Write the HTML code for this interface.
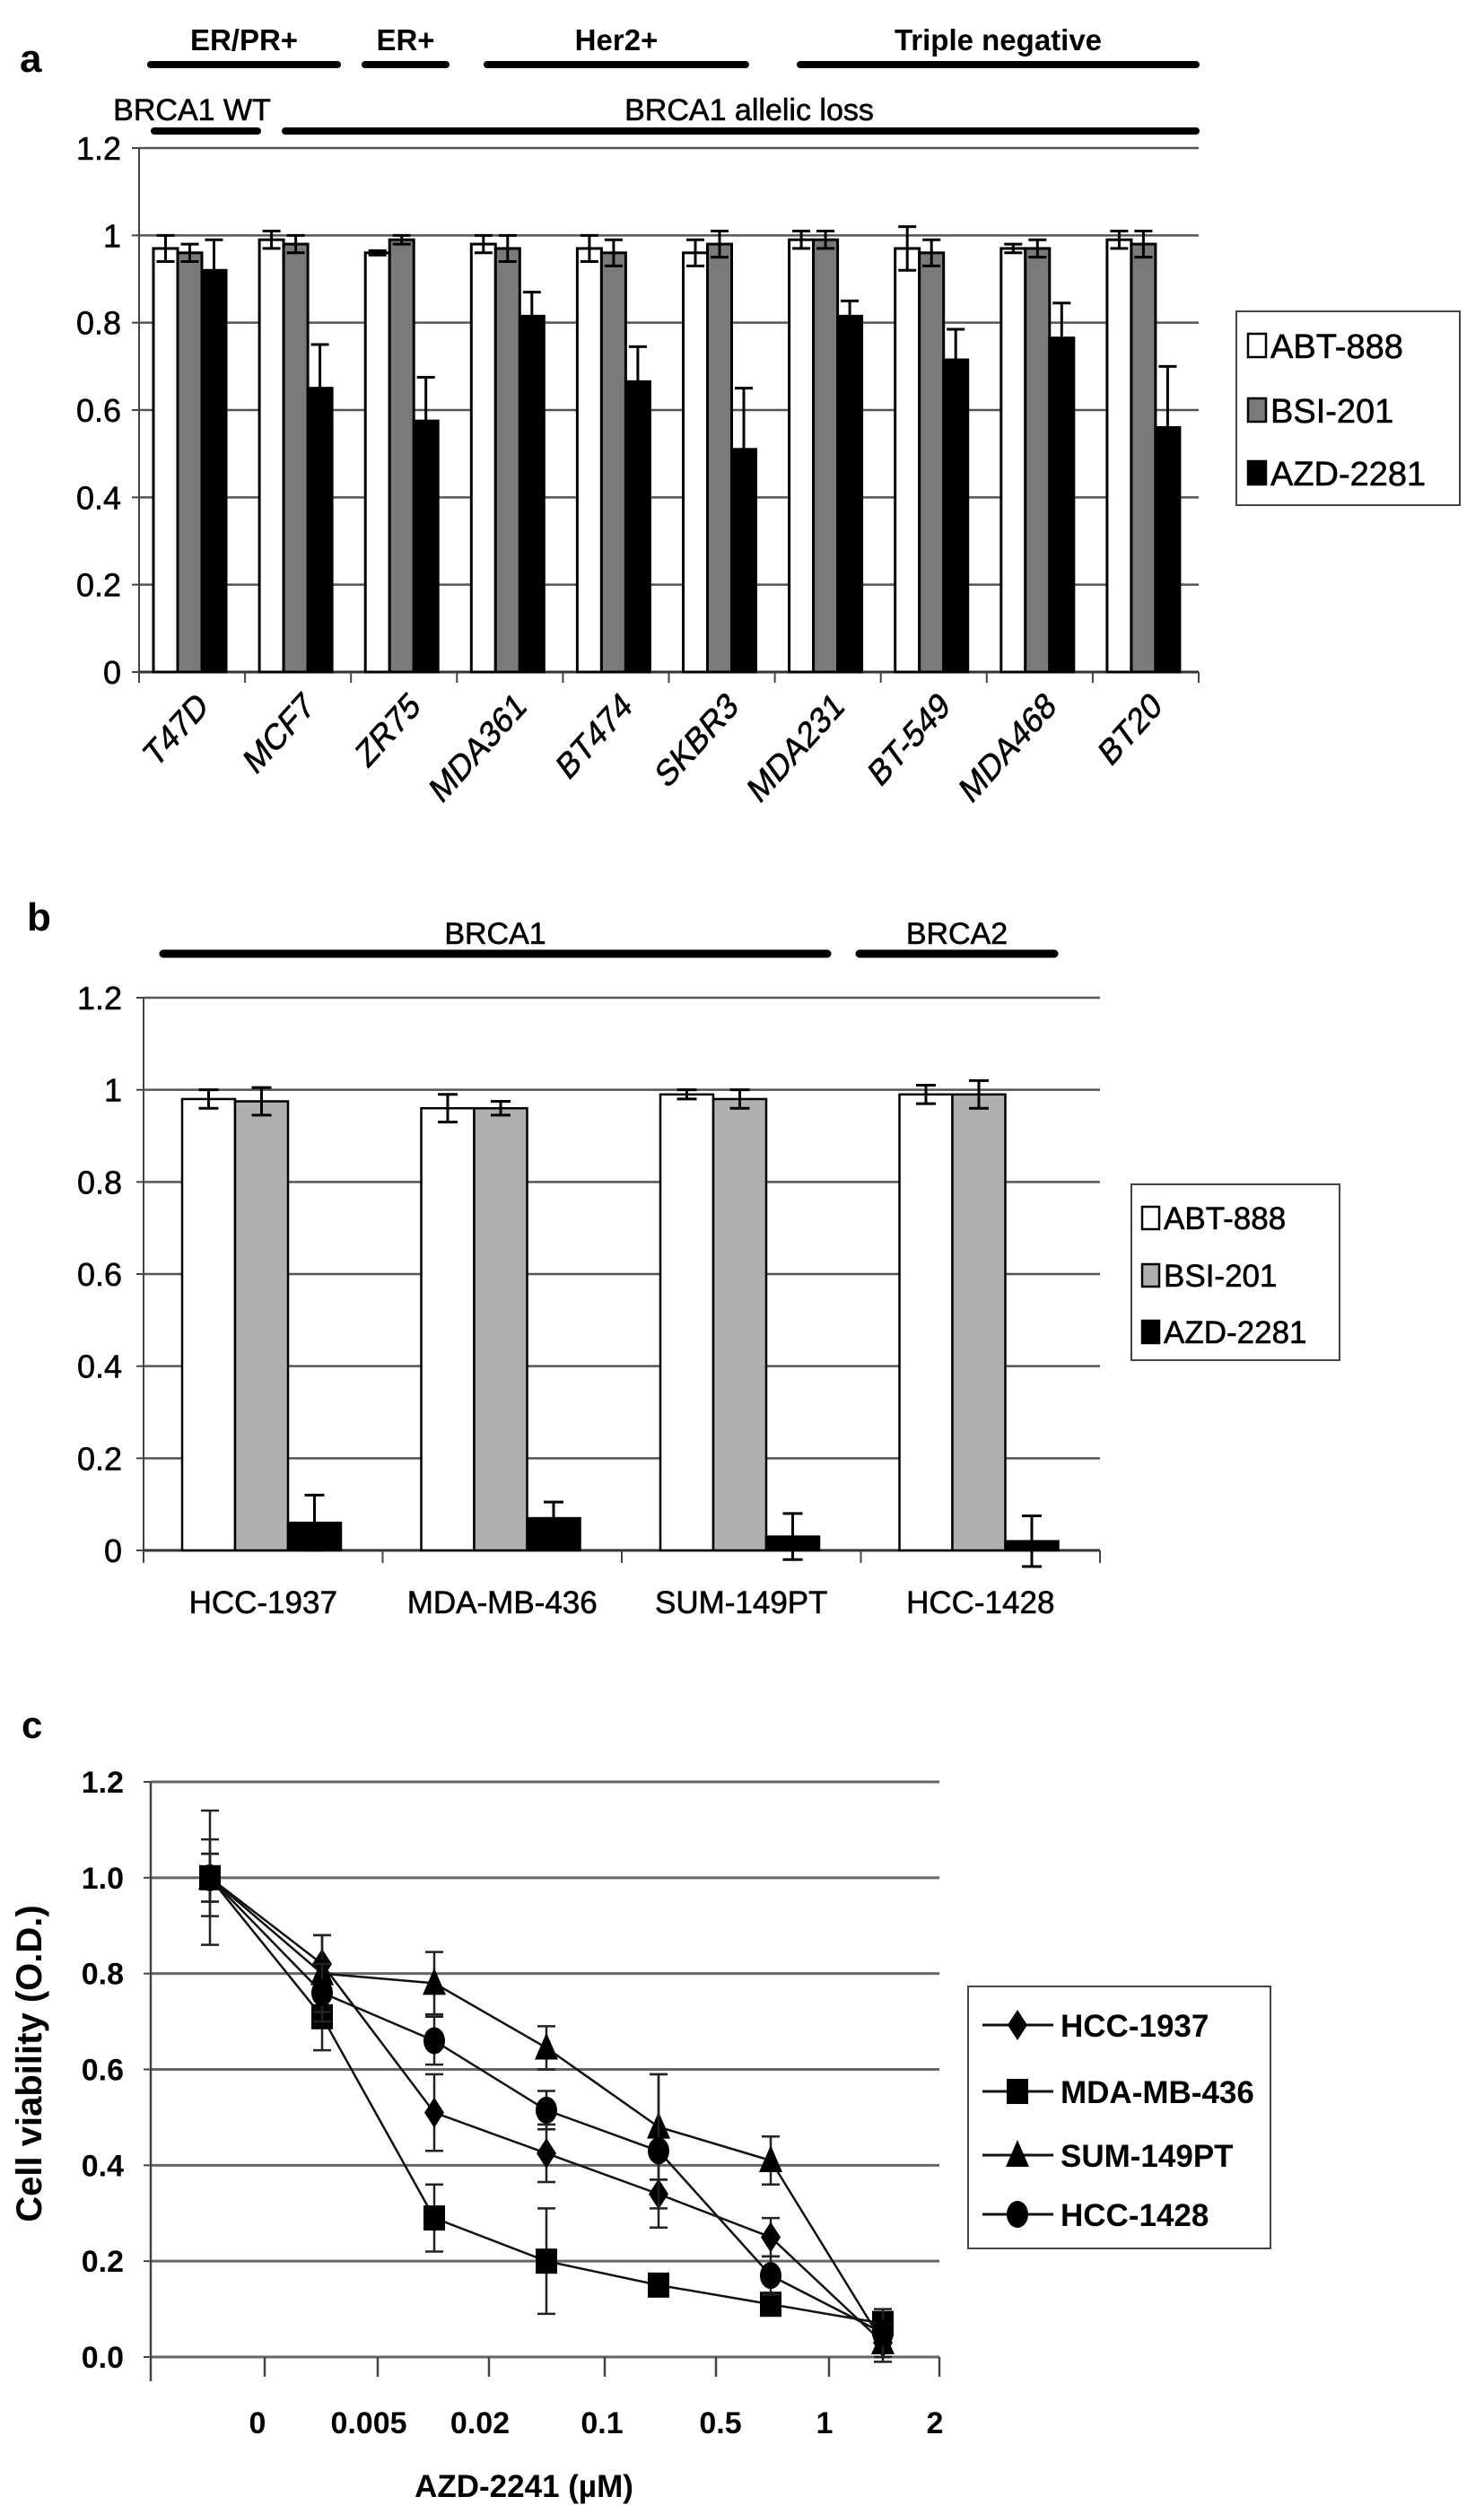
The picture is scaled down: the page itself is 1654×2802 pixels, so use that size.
<!DOCTYPE html>
<html><head><meta charset="utf-8">
<style>
html,body{margin:0;padding:0;background:#fff;}
svg{display:block;font-family:"Liberation Sans",Arial,sans-serif;}
</style></head>
<body>
<svg id="fig" width="1654" height="2802" viewBox="0 0 1654 2802" xmlns="http://www.w3.org/2000/svg"></svg>
<script>
// ---------- Panel a data ----------
const aCategories = ["T47D","MCF7","ZR75","MDA361","BT474","SKBR3","MDA231","BT-549","MDA468","BT20"];
const aABT = [0.97,0.99,0.96,0.98,0.97,0.96,0.99,0.97,0.97,0.99];
const aBSI = [0.96,0.98,0.99,0.97,0.96,0.98,0.99,0.96,0.97,0.98];
const aAZD = [0.92,0.65,0.575,0.815,0.665,0.51,0.815,0.715,0.765,0.56];
const aABTerr = [0.03,0.02,0.005,0.02,0.03,0.03,0.02,0.05,0.01,0.02];
const aBSIerr = [0.02,0.02,0.01,0.03,0.03,0.03,0.02,0.03,0.02,0.03];
const aAZDerr = [0.07,0.10,0.10,0.055,0.08,0.14,0.035,0.07,0.08,0.14];
const aTicks = ["0","0.2","0.4","0.6","0.8","1","1.2"];
// ---------- Panel b data ----------
const bCategories = ["HCC-1937","MDA-MB-436","SUM-149PT","HCC-1428"];
const bABT = [0.98,0.96,0.99,0.99];
const bBSI = [0.975,0.96,0.98,0.99];
const bAZD = [0.06,0.07,0.03,0.02];
const bABTerr = [0.02,0.03,0.01,0.02];
const bBSIerr = [0.03,0.015,0.02,0.03];
const bAZDerr = [0.06,0.035,0.05,0.055];
const bTicks = ["0","0.2","0.4","0.6","0.8","1","1.2"];
// ---------- Panel c data ----------
const cXLabels = ["0","0.005","0.02","0.1","0.5","1","2"];
const cTicks = ["0.0","0.2","0.4","0.6","0.8","1.0","1.2"];
const cSeriesNames = ["HCC-1937","MDA-MB-436","SUM-149PT","HCC-1428"];
const cHCC1937 = [1.0,0.82,0.51,0.425,0.34,0.25,0.03];
const cMDA436 = [1.0,0.71,0.29,0.20,0.15,0.11,0.07];
const cSUM149 = [1.0,0.80,0.78,0.645,0.48,0.41,0.03];
const cHCC1428 = [1.0,0.76,0.66,0.515,0.43,0.17,0.05];
const cHCC1937err = [0.05,0.06,0.08,0.06,0.03,0.04,0.03];
const cMDA436err = [0.05,0.07,0.07,0.11,0.02,0.02,0.02];
const cSUM149err = [0.14,0.08,0.065,0.045,0.11,0.05,0.04];
const cHCC1428err = [0.08,0.06,0.05,0.04,0.16,0.04,0.05];

const NS="http://www.w3.org/2000/svg";
const svg=document.getElementById('fig');
function mk(tag,attrs,parent){const e=document.createElementNS(NS,tag);for(const k in attrs)e.setAttribute(k,attrs[k]);(parent||svg).appendChild(e);return e;}
function txt(s,attrs,parent){const e=mk('text',attrs,parent);e.textContent=s;return e;}

// ================= PANEL A =================
(function(){
  const g=mk('g',{});
  
  
  const x0=155,x1=1336,y0=749,yTop=165;
  const y=v=>y0-(v/1.2)*(y0-yTop);
  const gw=(x1-x0)/aCategories.length, bw=27, off=16;
  const lab=txt('a',{x:22,y:80,'font-size':44,'font-weight':'bold'},g);
  
  
  const heads=[["ER/PR+",168,376],["ER+",407,497],["Her2+",543,831],["Triple negative",892,1333]];
  heads.forEach(h=>{
    const l=mk('line',{x1:h[1],x2:h[2],y1:72,y2:72,stroke:'#000','stroke-width':8,'stroke-linecap':'round'},g);
    
    
    const t=txt(h[0],{x:(h[1]+h[2])/2,y:56,'font-size':33,'font-weight':'bold','text-anchor':'middle'},g);
    
    
  });
  const heads2=[["BRCA1 WT",172,287,214],["BRCA1 allelic loss",318,1333,835]];
  heads2.forEach(h=>{
    const l=mk('line',{x1:h[1],x2:h[2],y1:146,y2:146,stroke:'#000','stroke-width':8,'stroke-linecap':'round'},g);
    
    
    const t=txt(h[0],{x:h[3],y:134,'font-size':34,'text-anchor':'middle','stroke':'#000','stroke-width':0.6},g);
    
    
  });
  aTicks.forEach((s,i)=>{
    const v=parseFloat(s), yy=y(v);
    const gl=mk('line',{x1:x0,x2:x1,y1:yy,y2:yy,stroke:'#555','stroke-width':2.5},g);
    
    
    mk('line',{x1:x0-8,x2:x0,y1:yy,y2:yy,stroke:'#444','stroke-width':2},g);
    const t=txt(s,{x:x0-20,y:yy+13,'font-size':36,'text-anchor':'end','stroke':'#000','stroke-width':0.6},g);
    
    
  });
  const ax=mk('line',{x1:x0,x2:x0,y1:yTop,y2:y0,stroke:'#444','stroke-width':2},g);
  
  
  const xa=mk('line',{x1:x0,x2:x1,y1:y0,y2:y0,stroke:'#333','stroke-width':3},g);
  
  
  const series=[[aABT,aABTerr,'#fff','abt-888'],[aBSI,aBSIerr,'#7a7a7a','bsi-201'],[aAZD,aAZDerr,'#000','azd-2281']];
  aCategories.forEach((c,i)=>{
    const gx=x0+gw*i;
    mk('line',{x1:gx,x2:gx,y1:y0,y2:y0+12,stroke:'#444','stroke-width':2},g);
    series.forEach((s,j)=>{
      const bx=gx+off+j*bw, v=s[0][i], e=s[1][i];
      const r=mk('rect',{x:bx,y:y(v),width:bw,height:y0-y(v),fill:s[2],stroke:'#000','stroke-width':3},g);
      
      
      const cx=bx+bw/2;
      const eb=mk('path',{d:`M${cx},${y(v+e)}V${y(v-e)}M${cx-10},${y(v+e)}H${cx+10}M${cx-10},${y(v-e)}H${cx+10}`,stroke:'#000','stroke-width':3,fill:'none'},g);
      
      
    });
    const t=txt(c,{x:0,y:0,'font-size':37,'text-anchor':'end','stroke':'#000','stroke-width':0.6,transform:`translate(${gx+gw/2+20},${790}) rotate(-48) skewX(-12)`},g);
    
    
  });
  mk('line',{x1:x1,x2:x1,y1:y0,y2:y0+12,stroke:'#444','stroke-width':2},g);
  const lg=mk('g',{},g);
  
  
  mk('rect',{x:1378,y:347,width:249,height:216,fill:'#fff',stroke:'#444','stroke-width':2},lg);
  ['ABT-888','BSI-201','AZD-2281'].forEach((n,j)=>{
    const yy=[385,457,527][j];
    const it=mk('g',{},lg);
    
    
    mk('rect',{x:1391,y:yy-13,width:20,height:26,fill:series[j][2],stroke:'#000','stroke-width':2.5},it);
    txt(n,{x:1416,y:yy+14,'font-size':38,'stroke':'#000','stroke-width':0.6},it);
  });
})();

// ================= PANEL B =================
(function(){
  const g=mk('g',{});
  
  
  const x0=160,x1=1226,y0=1728,yTop=1112;
  const y=v=>y0-(v/1.2)*(y0-yTop);
  const gw=(x1-x0)/bCategories.length, bw=59, off=43;
  const lab=txt('b',{x:30,y:1037,'font-size':44,'font-weight':'bold'},g);
  
  
  [["BRCA1",182,922],["BRCA2",958,1175]].forEach(h=>{
    const l=mk('line',{x1:h[1],x2:h[2],y1:1063,y2:1063,stroke:'#000','stroke-width':9,'stroke-linecap':'round'},g);
    
    
    const t=txt(h[0],{x:(h[1]+h[2])/2,y:1052,'font-size':34,'text-anchor':'middle','stroke':'#000','stroke-width':0.6},g);
    
    
  });
  bTicks.forEach(s=>{
    const v=parseFloat(s), yy=y(v);
    const gl=mk('line',{x1:x0,x2:x1,y1:yy,y2:yy,stroke:'#555','stroke-width':2.5},g);
    
    
    mk('line',{x1:x0-8,x2:x0,y1:yy,y2:yy,stroke:'#444','stroke-width':2},g);
    const t=txt(s,{x:x0-24,y:yy+13,'font-size':36,'text-anchor':'end','stroke':'#000','stroke-width':0.6},g);
    
    
  });
  const ax=mk('line',{x1:x0,x2:x0,y1:yTop,y2:y0+12,stroke:'#444','stroke-width':2},g);
  
  
  const xa=mk('line',{x1:x0,x2:x1,y1:y0,y2:y0,stroke:'#333','stroke-width':3},g);
  
  
  const series=[[bABT,bABTerr,'#fff','abt-888'],[bBSI,bBSIerr,'#b0b0b0','bsi-201'],[bAZD,bAZDerr,'#000','azd-2281']];
  bCategories.forEach((c,i)=>{
    const gx=x0+gw*i;
    mk('line',{x1:gx,x2:gx,y1:y0,y2:y0+14,stroke:'#444','stroke-width':2},g);
    series.forEach((s,j)=>{
      const bx=gx+off+j*bw, v=s[0][i], e=s[1][i];
      const r=mk('rect',{x:bx,y:y(v),width:bw,height:y0-y(v),fill:s[2],stroke:'#000','stroke-width':2.5},g);
      
      
      const cx=bx+bw/2;
      const eb=mk('path',{d:`M${cx},${y(v+e)}V${y(v-e)}M${cx-11},${y(v+e)}H${cx+11}M${cx-11},${y(v-e)}H${cx+11}`,stroke:'#000','stroke-width':3,fill:'none'},g);
      
      
    });
    const t=txt(c,{x:gx+gw/2,y:1798,'font-size':35,'text-anchor':'middle','stroke':'#000','stroke-width':0.6},g);
    
    
  });
  mk('line',{x1:x1,x2:x1,y1:y0,y2:y0+14,stroke:'#444','stroke-width':2},g);
  const lg=mk('g',{},g);
  
  
  mk('rect',{x:1261,y:1320,width:232,height:196,fill:'#fff',stroke:'#444','stroke-width':2},lg);
  ['ABT-888','BSI-201','AZD-2281'].forEach((n,j)=>{
    const yy=[1357,1421,1484][j];
    const it=mk('g',{},lg);
    
    
    mk('rect',{x:1273,y:yy-12,width:19,height:25,fill:series[j][2],stroke:'#000','stroke-width':2.5},it);
    txt(n,{x:1297,y:yy+13,'font-size':35,'stroke':'#000','stroke-width':0.6},it);
  });
})();

// ================= PANEL C =================
(function(){
  const g=mk('g',{});
  
  
  const x0=168,x1=1047,y0=2627,yTop=1986;
  const y=v=>y0-(v/1.2)*(y0-yTop);
  const px=i=>234+i*125;
  const lab=txt('c',{x:24,y:1937,'font-size':42,'font-weight':'bold'},g);
  
  
  cTicks.forEach(s=>{
    const v=parseFloat(s), yy=y(v);
    const gl=mk('line',{x1:x0,x2:x1,y1:yy,y2:yy,stroke:'#666','stroke-width':3},g);
    
    
    mk('line',{x1:x0-8,x2:x0,y1:yy,y2:yy,stroke:'#444','stroke-width':2},g);
    const t=txt(s,{x:138,y:yy+12,'font-size':34,'font-weight':'bold','text-anchor':'end'},g);
    
    
  });
  const ax=mk('line',{x1:x0,x2:x0,y1:yTop,y2:2654,stroke:'#444','stroke-width':2.5},g);
  
  
  const tx=[295,421,545,674,798,924,1047];
  tx.forEach(t=>mk('line',{x1:t,x2:t,y1:y0,y2:y0+22,stroke:'#444','stroke-width':2.5},g));
  const lx=[287,411,535,671,803,919,1042];
  cXLabels.forEach((s,i)=>{
    const t=txt(s,{x:lx[i],y:2712,'font-size':34,'font-weight':'bold','text-anchor':'middle'},g);
    
    
  });
  const yt=txt('Cell viability (O.D.)',{x:0,y:0,'font-size':40,'font-weight':'bold','text-anchor':'middle',transform:'translate(46,2300) rotate(-90)'},g);
  
  
  const xt=txt('AZD-2241 (µM)',{x:584,y:2783,'font-size':35,'font-weight':'bold','text-anchor':'middle'},g);
  
  
  function marker(type,cx,cy,parent){
    if(type==='diamond')return mk('path',{d:`M${cx},${cy-17}L${cx+11},${cy}L${cx},${cy+17}L${cx-11},${cy}Z`,fill:'#000'},parent);
    if(type==='square')return mk('rect',{x:cx-12,y:cy-14,width:24,height:28,fill:'#000'},parent);
    if(type==='triangle')return mk('path',{d:`M${cx},${cy-17}L${cx+13},${cy+13}L${cx-13},${cy+13}Z`,fill:'#000'},parent);
    return mk('ellipse',{cx:cx,cy:cy,rx:12,ry:15,fill:'#000'},parent);
  }
  const sers=[[cHCC1937,cHCC1937err,'diamond'],[cMDA436,cMDA436err,'square'],[cSUM149,cSUM149err,'triangle'],[cHCC1428,cHCC1428err,'circle']];
  sers.forEach((s,k)=>{
    const sg=mk('g',{},g);
    
    
    const pts=s[0].map((v,i)=>px(i)+','+y(v)).join(' ');
    mk('polyline',{points:pts,fill:'none',stroke:'#111','stroke-width':2.5},sg);
    s[0].forEach((v,i)=>{
      const cx=px(i), e=s[1][i];
      const eb=mk('path',{d:`M${cx},${y(v+e)}V${y(v-e)}M${cx-10},${y(v+e)}H${cx+10}M${cx-10},${y(v-e)}H${cx+10}`,stroke:'#222','stroke-width':2.5,fill:'none'},sg);
      
      
      const m=marker(s[2],cx,y(v),sg);
      
      
    });
  });
  const lg=mk('g',{},g);
  
  
  mk('rect',{x:1079,y:2214,width:337,height:292,fill:'#fff',stroke:'#444','stroke-width':2},lg);
  const ly=[2257,2331,2402,2468];
  cSeriesNames.forEach((n,k)=>{
    const it=mk('g',{},lg);
    
    
    mk('line',{x1:1095,x2:1174,y1:ly[k],y2:ly[k],stroke:'#111','stroke-width':3},it);
    marker(sers[k][2],1134,ly[k],it);
    txt(n,{x:1182,y:ly[k]+13,'font-size':35,'font-weight':'bold'},it);
  });
})();
</script>
</body></html>
